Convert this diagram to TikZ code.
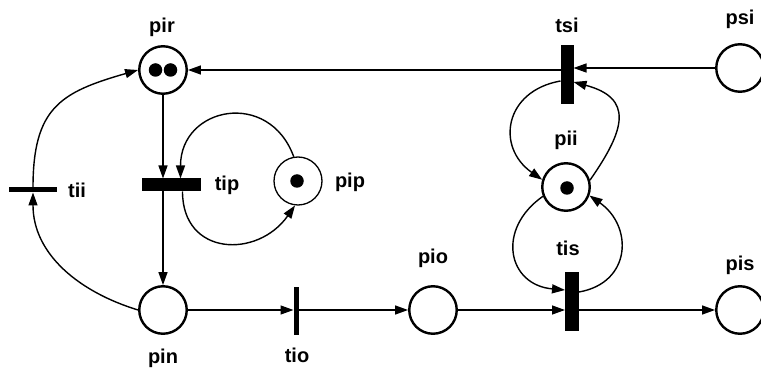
\documentclass[tikz,border=0pt]{standalone}
\usepackage{fontspec}
\setmainfont{Liberation Sans}
\usetikzlibrary{arrows.meta}
\begin{document}
\begin{tikzpicture}[x=1pt,y=1pt,
  place/.style={circle,draw,line width=2.4pt,minimum size=47.5pt,inner sep=0pt},
  thinplace/.style={circle,draw,line width=1.3pt,minimum size=48pt,inner sep=0pt},
  bar/.style={fill=black,draw=none,inner sep=0pt,outer sep=0pt},
  lbl/.style={font=\fontsize{20}{22}\selectfont\bfseries,inner sep=0pt},
  conn/.style={line width=1.4pt,-{Triangle[length=13pt,width=9pt]}},
  tok/.style={circle,fill=black,draw=none,inner sep=0pt,minimum size=13.5pt},
]
\useasboundingbox (0,0) rectangle (761,375);
% places
\node[place] (pir) at (163,305) {};
\node[place] (psi) at (740,307) {};
\node[place] (pii) at (566,188) {};
\node[place] (pio) at (433,65) {};
\node[place] (pis) at (740,65) {};
\node[place] (pin) at (163,65) {};
\node[thinplace] (pip) at (298,194) {};
% tokens
\node[tok] (k1) at (155.5,305) {};
\node[tok] (k2) at (170.5,305) {};
\node[tok] (k3) at (567,187) {};
\node[tok] (k4) at (297,194) {};
% transitions
\node[bar,minimum width=13pt,minimum height=59pt] (tsi) at (567,300) {};
\node[bar,minimum width=14pt,minimum height=59pt] (tis) at (572,73) {};
\node[bar,minimum width=59pt,minimum height=13pt] (tip) at (171.5,190) {};
\node[bar,minimum width=5pt,minimum height=48pt] (tio) at (296,64) {};
\node[bar,minimum width=48pt,minimum height=5pt] (tii) at (33,185) {};
% labels
\node[lbl] (lpir) at (162,348) {pir};
\node[lbl] (lpsi) at (740,356) {psi};
\node[lbl] (ltsi) at (567,350) {tsi};
\node[lbl] (lpii) at (566,235) {pii};
\node[lbl] (ltis) at (568,127) {tis};
\node[lbl] (lpio) at (433,117) {pio};
\node[lbl] (lpis) at (740,110) {pis};
\node[lbl] (ltio) at (297,20) {tio};
\node[lbl] (lpin) at (163,17) {pin};
\node[lbl] (ltip) at (227,190) {tip};
\node[lbl] (lpip) at (350,193) {pip};
\node[lbl] (ltii) at (77,185) {tii};
% helper coordinates
\coordinate (tipN) at ([xshift=9pt]tip.north);
\coordinate (tipS) at ([xshift=11pt]tip.south);
\coordinate (tsiL) at ([yshift=-6pt]tsi.west);
\coordinate (tsiR) at ([yshift=-7pt]tsi.east);
\coordinate (tisL) at ([yshift=12pt]tis.west);
\coordinate (tisR) at ([yshift=10pt]tis.east);
% straight connectors
\draw[conn] (psi.west) -- (psi.west -| tsi.east);
\draw[conn] (tsi.west |- pir) -- (pir.east);
\draw[conn] (pir.south) -- (pir.south |- tip.north);
\draw[conn] (pin.north |- tip.south) -- (pin.north);
\draw[conn] (pin.east) -- (pin.east -| tio.west);
\draw[conn] (tio.east |- pio) -- (pio.west);
\draw[conn] (pio.east) -- (pio.east -| tis.west);
\draw[conn] (tis.east |- pis) -- (pis.west);
% curved connectors
\draw[conn] (tii.north) to[out=90,in=196,looseness=1.3] (pir.west);
\draw[conn] (pin.west) to[out=163,in=270,looseness=1] (tii.south);
\draw[conn] (pip.100) to[out=110,in=90,looseness=1.6] (tipN);
\draw[conn] (tipS) to[out=270,in=235,looseness=1.47] (pip.263);
\draw[conn] (tsiL) to[out=190,in=145,looseness=1.45] (pii.163);
\draw[conn] (pii.16) to[out=55,in=345,looseness=1.6] (tsiR);
\draw[conn] (pii.202) to[out=215,in=175,looseness=1.53] (tisL);
\draw[conn] (tisR) to[out=10,in=325,looseness=1.41] (pii.340);
\end{tikzpicture}
\end{document}
